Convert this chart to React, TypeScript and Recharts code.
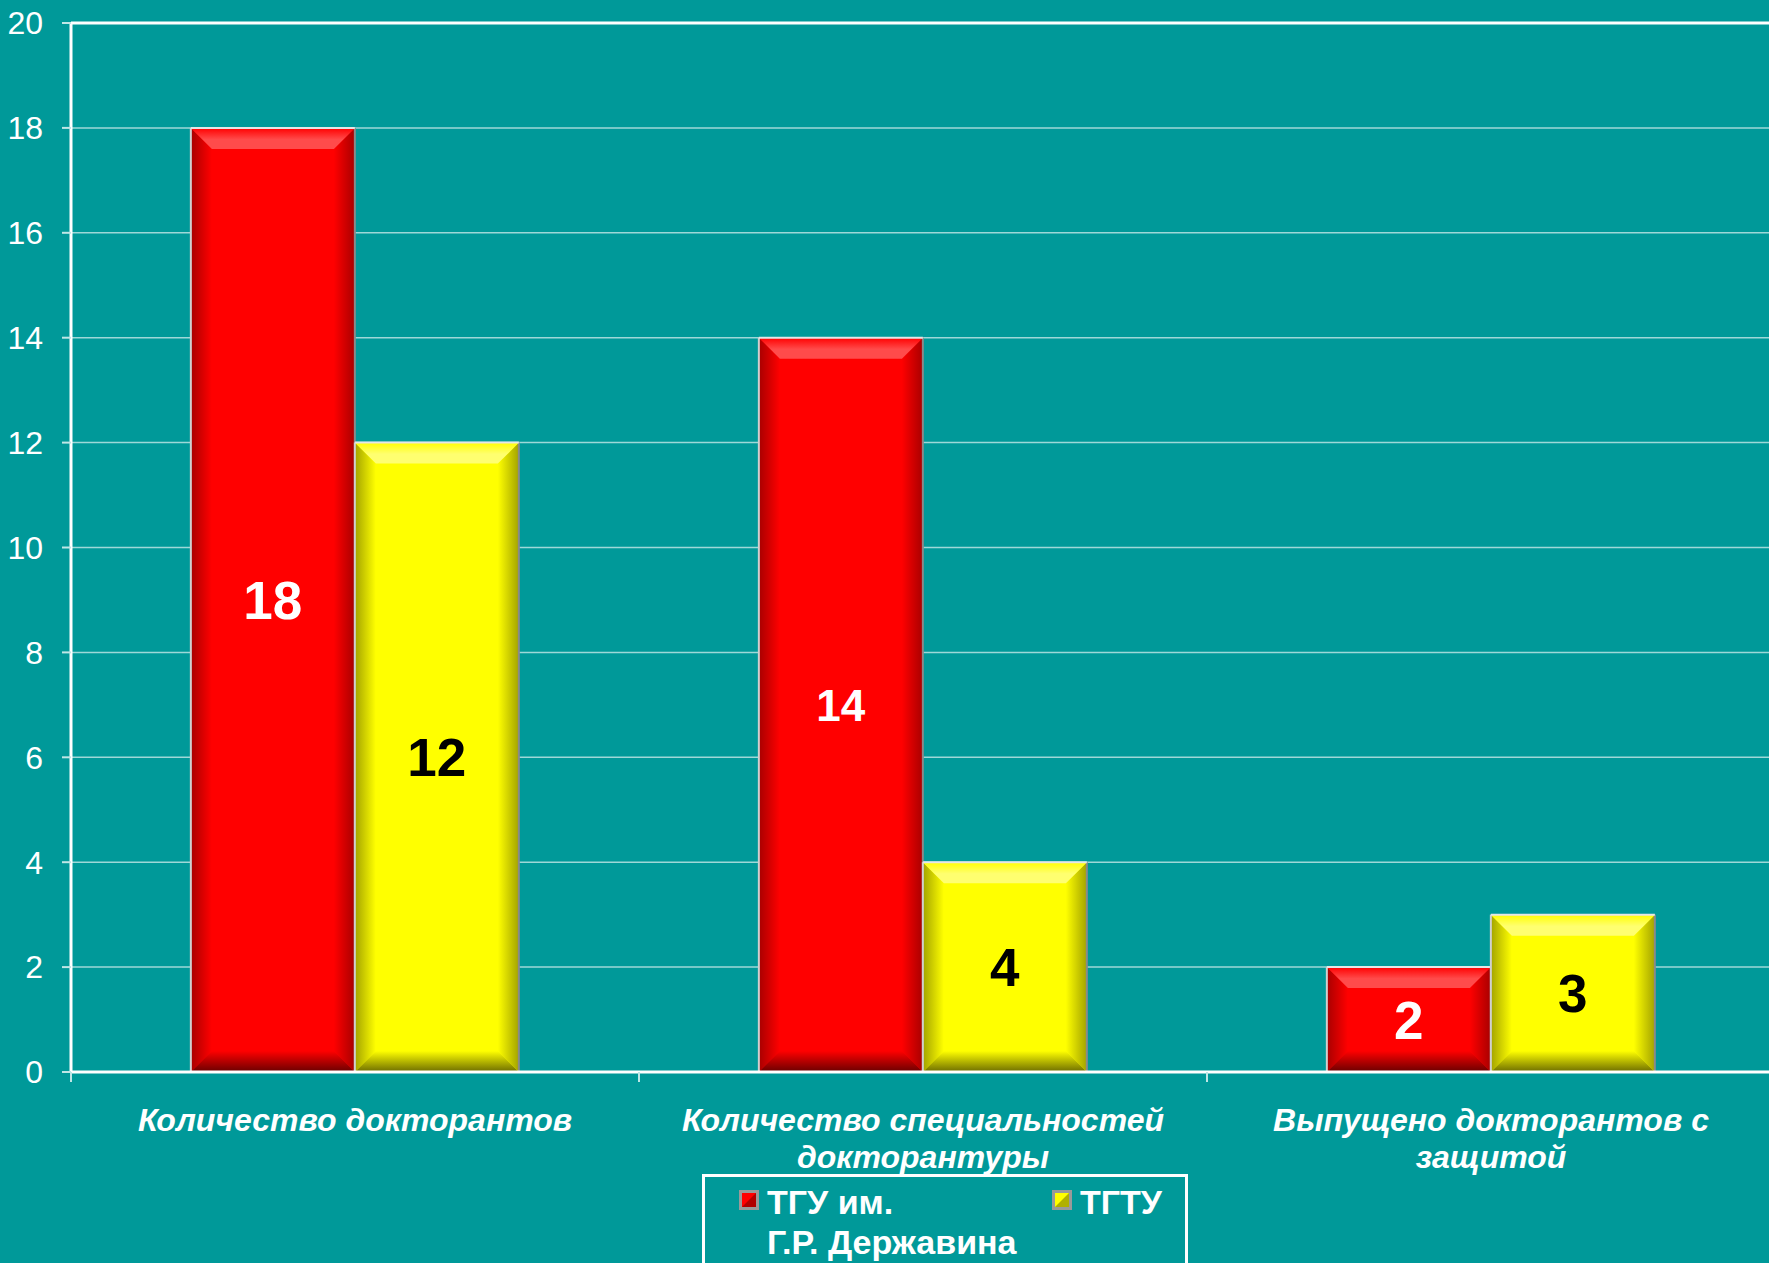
import React from 'react';
import { BarChart, Bar, XAxis, YAxis, CartesianGrid, LabelList, Legend, ReferenceLine } from 'recharts';

// ---- data ----
const categories = [
  'Количество докторантов',
  'Количество специальностей докторантуры',
  'Выпущено докторантов с защитой',
];
const tguValues = [18, 14, 2];
const tgtuValues = [12, 4, 3];
const seriesKeys = ['tgu', 'tgtu'];
const seriesNames = ['ТГУ им. Г.Р.\u00A0Державина', 'ТГТУ'];
const yTicks = [0, 2, 4, 6, 8, 10, 12, 14, 16, 18, 20];

const data = categories.map((c, i) => ({ category: c, tgu: tguValues[i], tgtu: tgtuValues[i] }));

// ---- styles ----
const FONT = "'Liberation Sans', Arial, Helvetica, sans-serif";
const BG = '#009999';
const PALETTE: Record<string, any> = {
  tgu: { base: '#ff0000', light: '#ff4b4b', side: '#a80000', bottom: '#680000', label: '#ffffff' },
  tgtu: { base: '#ffff00', light: '#ffff70', side: '#a3a300', bottom: '#6c6c00', label: '#000000' },
};
const LABEL_FONT: Record<string, number[]> = { tgu: [53, 44, 53], tgtu: [53, 53, 53] };

function BevelBar(props: any) {
  const { x, y, width, height, dataKey, index } = props;
  if (!height || height <= 0) return null;
  const c = PALETTE[dataKey];
  const id = `${dataKey}-${index}`;
  const b = Math.min(21, width / 2, height / 2);
  const x2 = x + width;
  const y2 = y + height;
  return (
    <g>
      <defs>
        <linearGradient id={`top-${id}`} x1="0" y1="0" x2="0" y2="1">
          <stop offset="0" stopColor={c.base} />
          <stop offset="0.55" stopColor={c.light} />
          <stop offset="1" stopColor={c.light} />
        </linearGradient>
        <linearGradient id={`left-${id}`} x1="0" y1="0" x2="1" y2="0">
          <stop offset="0" stopColor={c.side} />
          <stop offset="1" stopColor={c.base} />
        </linearGradient>
        <linearGradient id={`right-${id}`} x1="0" y1="0" x2="1" y2="0">
          <stop offset="0" stopColor={c.base} />
          <stop offset="1" stopColor={c.side} />
        </linearGradient>
        <linearGradient id={`bottom-${id}`} x1="0" y1="0" x2="0" y2="1">
          <stop offset="0" stopColor={c.base} />
          <stop offset="1" stopColor={c.bottom} />
        </linearGradient>
      </defs>
      <rect x={x} y={y} width={width} height={height} fill={c.base} />
      <polygon points={`${x},${y} ${x + b},${y + b} ${x + b},${y2 - b} ${x},${y2}`} fill={`url(#left-${id})`} />
      <polygon points={`${x2},${y} ${x2},${y2} ${x2 - b},${y2 - b} ${x2 - b},${y + b}`} fill={`url(#right-${id})`} />
      <polygon points={`${x},${y2} ${x + b},${y2 - b} ${x2 - b},${y2 - b} ${x2},${y2}`} fill={`url(#bottom-${id})`} />
      <polygon points={`${x},${y} ${x2},${y} ${x2 - b},${y + b} ${x + b},${y + b}`} fill={`url(#top-${id})`} />
      <line x1={x} y1={y} x2={x} y2={y2} stroke="#d0d0d0" strokeWidth={2} />
      <line x1={x2} y1={y} x2={x2} y2={y2} stroke="#8a8a8a" strokeWidth={2} />
      <line x1={x} y1={y} x2={x2} y2={y} stroke="#e6e6e6" strokeWidth={2} />
    </g>
  );
}

function makeLabel(series: string) {
  return (p: any) => {
    const { x, y, width, height, value, index } = p;
    const fs = LABEL_FONT[series][index] ?? 52;
    return (
      <text
        x={x + width / 2}
        y={y + height / 2 + fs * 0.358}
        textAnchor="middle"
        fill={PALETTE[series].label}
        fontFamily={FONT}
        fontWeight="bold"
        fontSize={fs}
      >
        {value}
      </text>
    );
  };
}

let measureCtx: CanvasRenderingContext2D | null = null;
function wrapText(text: string, maxWidth: number, font: string): string[] {
  if (!measureCtx) measureCtx = document.createElement('canvas').getContext('2d');
  const ctx = measureCtx!;
  ctx.font = font;
  const words = text.split(' ');
  const lines: string[] = [];
  let cur = '';
  for (const w of words) {
    const test = cur ? cur + ' ' + w : w;
    if (cur && ctx.measureText(test).width > maxWidth) {
      lines.push(cur);
      cur = w;
    } else cur = test;
  }
  if (cur) lines.push(cur);
  return lines;
}

function CategoryTick(props: any) {
  const { x, y, payload, index } = props;
  const half = payload?.offset ?? 0;
  const lines = wrapText(String(payload.value), 500, `italic bold 32px ${FONT}`);
  return (
    <g>
      <line x1={x + half} y1={y} x2={x + half} y2={y + 10} stroke="#bfe6e6" strokeWidth={2} />
      {index === 0 && <line x1={x - half} y1={y} x2={x - half} y2={y + 10} stroke="#bfe6e6" strokeWidth={2} />}
      <text x={x} y={y} textAnchor="middle" fill="#ffffff" fontFamily={FONT} fontWeight="bold" fontStyle="italic" fontSize={32}>
        {lines.map((l, i) => (
          <tspan key={i} x={x} y={y + 59 + i * 37}>
            {l}
          </tspan>
        ))}
      </text>
    </g>
  );
}

function Marker({ color, dark }: { color: string; dark: string }) {
  return (
    <svg width={20} height={20} style={{ position: 'absolute', left: 0, top: 0 }}>
      <rect x={0} y={0} width={20} height={20} fill="#9a9a9a" />
      <rect x={3} y={3} width={14} height={14} fill={color} />
      <polygon points="3,17 17,3 17,17" fill={dark} opacity={0.55} />
    </svg>
  );
}

function LegendBox(props: any) {
  const payload = props.payload || [];
  const ordered = seriesKeys
    .map((k) => payload.find((p: any) => p.dataKey === k))
    .filter(Boolean);
  const cols = [37, 350];
  return (
    <div
      style={{
        position: 'relative',
        width: 486,
        height: 130,
        border: '3px solid #ffffff',
        boxSizing: 'border-box',
        fontFamily: FONT,
        fontWeight: 'bold',
        fontSize: 34,
        color: '#ffffff',
      }}
    >
      {ordered.map((p: any, i: number) => (
        <div key={i} style={{ position: 'absolute', left: cols[i] - 3, top: 13 }}>
          <Marker color={p.color} dark={i === 0 ? '#700000' : '#707000'} />
          <div style={{ position: 'absolute', left: 28, top: -8, width: 262, lineHeight: '40px', whiteSpace: 'normal' }}>
            {p.value}
          </div>
        </div>
      ))}
    </div>
  );
}

export default function App() {
  return (
    <div style={{ position: 'absolute', left: 0, top: 0, width: 1769, height: 1263, overflow: 'hidden', background: BG }}>
      <BarChart
        width={1775}
        height={1263}
        data={data}
        margin={{ top: 23, right: 0, bottom: 0, left: 0 }}
        barCategoryGap="21.1%"
        barGap={0}
      >
        <CartesianGrid horizontal vertical={false} stroke="rgba(255,255,255,0.62)" strokeWidth={1.5} />
        <ReferenceLine y={20} stroke="#ffffff" strokeWidth={3} />
        <XAxis
          dataKey="category"
          height={191}
          axisLine={{ stroke: '#ffffff', strokeWidth: 3 }}
          tickLine={false}
          tickSize={0}
          tickMargin={0}
          interval={0}
          tick={<CategoryTick />}
        />
        <YAxis
          width={71}
          domain={[0, 20]}
          ticks={yTicks}
          interval={0}
          axisLine={{ stroke: '#ffffff', strokeWidth: 3 }}
          tickLine={{ stroke: '#bfe6e6', strokeWidth: 2 }}
          tickSize={9}
          tickMargin={19}
          tick={{ fill: '#ffffff', fontSize: 32, fontFamily: FONT }}
        />
        <Legend
          layout="horizontal"
          verticalAlign="middle"
          align="center"
          wrapperStyle={{ left: 702, top: 1174, width: 486, height: 130 }}
          content={<LegendBox />}
        />
        <Bar dataKey="tgu" name={seriesNames[0]} fill="#ff0000" shape={<BevelBar />} isAnimationActive={false}>
          <LabelList dataKey="tgu" content={makeLabel('tgu')} />
        </Bar>
        <Bar dataKey="tgtu" name={seriesNames[1]} fill="#ffff00" shape={<BevelBar />} isAnimationActive={false}>
          <LabelList dataKey="tgtu" content={makeLabel('tgtu')} />
        </Bar>
      </BarChart>
    </div>
  );
}
